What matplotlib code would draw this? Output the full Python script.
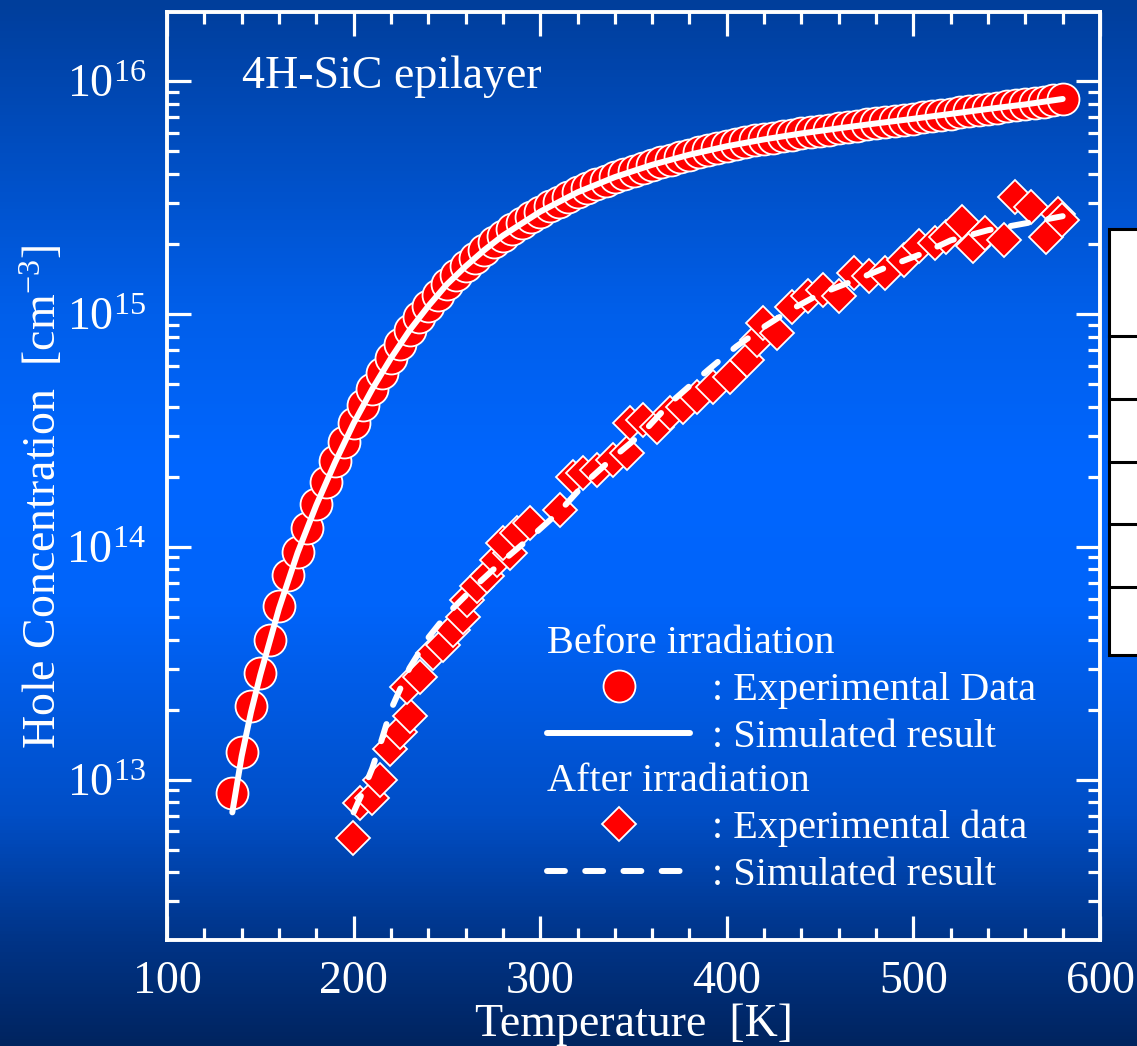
import numpy as np
import matplotlib
matplotlib.use("Agg")
import matplotlib.pyplot as plt
from matplotlib.lines import Line2D
from matplotlib.patches import Rectangle
from matplotlib.ticker import MultipleLocator

plt.rcParams['font.family'] = ['Liberation Serif', 'DejaVu Serif']
plt.rcParams['mathtext.fontset'] = 'custom'
plt.rcParams['mathtext.rm'] = 'Liberation Serif'
plt.rcParams['mathtext.it'] = 'Liberation Serif:italic'

# before irradiation, experimental (every 5 K from 135 K)
temp_before = np.arange(135, 585, 5)
hole_before = [
    8.77e12, 1.31e13, 2.07e13, 2.87e13, 3.99e13, 5.55e13, 7.59e13, 9.48e13,
    1.20e14, 1.52e14, 1.90e14, 2.33e14, 2.83e14, 3.40e14, 4.05e14, 4.76e14,
    5.57e14, 6.46e14, 7.45e14, 8.51e14, 9.66e14, 1.08e15, 1.21e15, 1.34e15,
    1.47e15, 1.60e15, 1.74e15, 1.88e15, 2.03e15, 2.17e15, 2.32e15, 2.46e15,
    2.61e15, 2.75e15, 2.90e15, 3.04e15, 3.18e15, 3.33e15, 3.47e15, 3.61e15,
    3.74e15, 3.87e15, 4.00e15, 4.12e15, 4.25e15, 4.37e15, 4.49e15, 4.60e15,
    4.72e15, 4.83e15, 4.94e15, 5.05e15, 5.15e15, 5.25e15, 5.35e15, 5.45e15,
    5.56e15, 5.65e15, 5.71e15, 5.79e15, 5.88e15, 5.96e15, 6.04e15, 6.12e15,
    6.19e15, 6.28e15, 6.35e15, 6.44e15, 6.52e15, 6.59e15, 6.67e15, 6.75e15,
    6.82e15, 6.90e15, 6.98e15, 7.06e15, 7.16e15, 7.24e15, 7.35e15, 7.43e15,
    7.52e15, 7.60e15, 7.69e15, 7.78e15, 7.87e15, 7.96e15, 8.05e15, 8.15e15,
    8.26e15, 8.38e15]

# before irradiation, simulated
temp_sim_before = [135, 140, 145, 150, 160, 170, 180, 190, 200, 210, 220, 230,
                   240, 250, 260, 270, 280, 300, 320, 340, 360, 380, 400, 420,
                   440, 460, 480, 500, 520, 540, 560, 580]
hole_sim_before = [7.24e12, 1.26e13, 1.95e13, 2.82e13, 5.43e13, 9.44e13,
                   1.51e14, 2.30e14, 3.39e14, 4.76e14, 6.46e14, 8.51e14,
                   1.08e15, 1.34e15, 1.60e15, 1.88e15, 2.17e15, 2.75e15,
                   3.33e15, 3.87e15, 4.37e15, 4.83e15, 5.25e15, 5.62e15,
                   5.96e15, 6.27e15, 6.58e15, 6.89e15, 7.23e15, 7.59e15,
                   7.94e15, 8.38e15]

# after irradiation, experimental
temp_after = [199.9, 203.4, 209.7, 214.1, 219.5, 224.9, 230.2, 228.5, 235.6,
              242.5, 247.9, 253.3, 258.6, 260.6, 266.0, 271.3, 276.7, 283.8,
              280.2, 287.3, 294.5, 310.6, 317.7, 323.1, 330.2, 339.1, 346.3,
              348.0, 355.2, 362.4, 369.5, 376.7, 383.8, 392.7, 401.7, 410.6,
              416.0, 419.5, 427.0, 435.2, 443.4, 451.6, 459.9, 468.1, 476.3,
              484.6, 494.9, 503.1, 511.4, 517.5, 525.8, 532.0, 538.2, 548.5,
              554.7, 563.0, 571.1, 577.4, 579.4]
hole_after = [5.60e12, 7.94e12, 8.34e12, 1.00e13, 1.35e13, 1.61e13, 1.87e13,
              2.51e13, 2.77e13, 3.51e13, 3.79e13, 4.41e13, 5.01e13, 5.93e13,
              6.76e13, 7.46e13, 8.79e13, 9.42e13, 1.04e14, 1.15e14, 1.26e14,
              1.44e14, 2.00e14, 2.07e14, 2.14e14, 2.36e14, 2.52e14, 3.39e14,
              3.51e14, 3.28e14, 3.75e14, 4.00e14, 4.42e14, 4.88e14, 5.38e14,
              6.35e14, 7.73e14, 9.12e14, 8.26e14, 1.07e15, 1.19e15, 1.27e15,
              1.19e15, 1.50e15, 1.45e15, 1.50e15, 1.71e15, 1.95e15, 2.01e15,
              2.15e15, 2.49e15, 1.95e15, 2.22e15, 2.08e15, 3.18e15, 2.89e15,
              2.15e15, 2.70e15, 2.53e15]

# after irradiation, simulated
temp_sim_after = [200, 205, 210, 215, 220, 230, 240, 250, 265, 280, 295, 310,
                  325, 340, 355, 370, 380, 390, 405, 420, 435, 450, 470, 485,
                  505, 520, 540, 560, 580]
hole_sim_after = [7.24e12, 8.91e12, 1.12e13, 1.48e13, 2.00e13, 3.02e13,
                  4.07e13, 5.13e13, 6.76e13, 8.71e13, 1.10e14, 1.41e14,
                  1.91e14, 2.45e14, 3.09e14, 4.17e14, 4.90e14, 5.75e14,
                  7.24e14, 8.81e14, 1.05e15, 1.22e15, 1.41e15, 1.58e15,
                  1.82e15, 2.07e15, 2.29e15, 2.45e15, 2.63e15]

W, H = 1137, 1046
fig = plt.figure(figsize=(W / 100, H / 100), dpi=100)

# blue gradient background
stops = [0.0, 0.3, 0.45, 0.58, 0.78, 0.9, 1.0]
reds = [0, 0, 0, 0, 0, 0, 0]
greens = [62, 95, 102, 100, 78, 52, 36]
blues = [155, 235, 255, 250, 198, 135, 95]
yy = np.linspace(0, 1, 300)
grad = np.stack([np.interp(yy, stops, reds), np.interp(yy, stops, greens),
                 np.interp(yy, stops, blues)], axis=1)[:, None, :] / 255
bg = fig.add_axes([0, 0, 1, 1], zorder=-5)
bg.imshow(grad, aspect='auto', extent=[0, 1, 0, 1])
bg.axis('off')

ax = fig.add_axes([167 / W, 1 - 940 / H, 933 / W, 928 / H])
ax.set_facecolor('none')

circ_ms = 23
diam_ms = 17
ax.plot(temp_before, hole_before, 'o', ms=circ_ms, mfc='#ff0000', mec='white',
        mew=1.3, zorder=3)
ax.plot(temp_sim_before, hole_sim_before, '-', color='white', lw=4.3,
        solid_capstyle='round', zorder=4)
ax.plot(temp_after, hole_after, 'D', ms=diam_ms, mfc='#ff0000', mec='white',
        mew=1.3, zorder=3)
ax.plot(temp_sim_after, hole_sim_after, '--', color='white', lw=4.3,
        dashes=(3, 3.4), dash_capstyle='round', zorder=4)

ax.set_yscale('log')
ax.set_xlim(100, 600)
ax.set_ylim(2.05e12, 1.98e16)
ax.xaxis.set_major_locator(MultipleLocator(100))
ax.xaxis.set_minor_locator(MultipleLocator(20))

for s in ax.spines.values():
    s.set_color('white')
    s.set_linewidth(2.8)
ax.tick_params(which='both', direction='in', top=True, right=True,
               color='white', labelcolor='white', width=2.3, labelsize=33,
               pad=15)
ax.tick_params(which='major', length=17)
ax.tick_params(which='minor', length=8.5)

ax.set_xlabel('Temperature  [K]', color='white', fontsize=33, labelpad=0)
ax.set_ylabel('Hole Concentration  [cm$^{-3}$]', color='white', fontsize=33,
              labelpad=0)
ax.yaxis.label.set_y(0.477)

ax.text(0.080, 0.918, '4H-SiC epilayer', transform=ax.transAxes,
        color='white', fontsize=33, va='baseline')

# legends
h_circ = Line2D([], [], ls='none', marker='o', ms=circ_ms, mfc='#ff0000',
                mec='white', mew=1.3)
h_solid = Line2D([], [], color='white', lw=4.3, solid_capstyle='round')
h_diam = Line2D([], [], ls='none', marker='D', ms=diam_ms, mfc='#ff0000',
                mec='white', mew=1.3)
h_dash = Line2D([], [], color='white', lw=4.3, ls='--', dashes=(3, 3.4),
                dash_capstyle='round')

leg_kw = dict(frameon=False, fontsize=29, title_fontsize=29, loc='upper left',
              alignment='left', handlelength=3.55, handletextpad=0.55,
              labelspacing=0.24, borderpad=0, borderaxespad=0, numpoints=1)
leg1 = ax.legend([h_circ, h_solid], [': Experimental Data', ': Simulated result'],
                 title='Before irradiation', bbox_to_anchor=(0.4073, 0.3394),
                 labelcolor='white', **leg_kw)
leg1.get_title().set_color('white')
ax.add_artist(leg1)
leg2 = ax.legend([h_diam, h_dash], [': Experimental data', ': Simulated result'],
                 title='After irradiation', bbox_to_anchor=(0.4073, 0.1907),
                 labelcolor='white', **leg_kw)
leg2.get_title().set_color('white')

# partially visible white table at the right edge
fig.add_artist(Rectangle((1109 / W, 1 - 655 / H), 60 / W, 426 / H,
                         transform=fig.transFigure, fc='white', ec='black',
                         lw=2.2, zorder=2))
for yp in [336, 399, 462, 524, 587]:
    fig.add_artist(Line2D([1109 / W, 1], [1 - yp / H, 1 - yp / H],
                          transform=fig.transFigure, color='black', lw=2.2,
                          zorder=3))

fig.savefig('out.png', dpi=100)
